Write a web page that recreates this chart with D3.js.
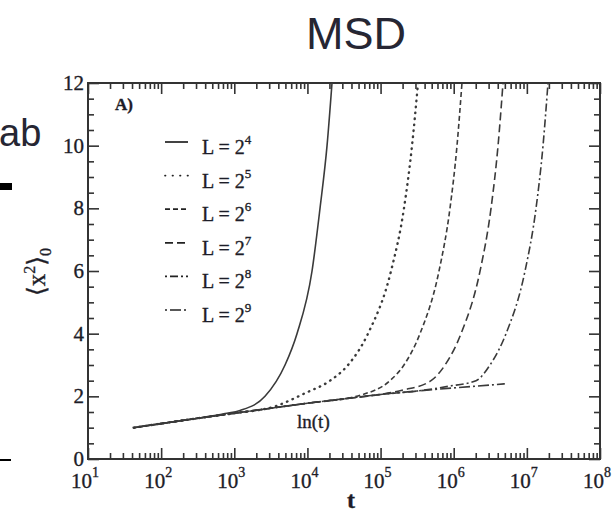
<!DOCTYPE html>
<meta charset="utf-8">
<script src="https://d3js.org/d3.v7.min.js"></script>
<style>
  body { margin: 0; background: #fff; }
  svg text { font-family: "Liberation Serif", "DejaVu Serif", serif; fill: #1d1d28; stroke: #1d1d28; stroke-width: 0.35px; }
</style>
<div id="vis"></div>
<script>

    // curves, each as [t, <x^2>_0]
    var labels = ["4", "5", "6", "7", "8", "9"];
    var curve4 = [[42, 1.0], [100, 1.13], [316, 1.30], [750, 1.45], [1200, 1.55], [2630, 2.0], [4940, 3.0],
        [7200, 4.0], [11560, 6.0], [14860, 8.0], [18540, 10.0], [21680, 12.0]];
    var curve5 = [[42, 1.0], [100, 1.13], [316, 1.30], [1000, 1.46], [3606, 1.68], [9268, 2.1], [20370, 2.5],
        [35890, 3.0], [67300, 4.0], [139000, 6.0], [208900, 8.0], [269200, 10.0], [325100, 12.0]];
    var curve6 = [[42, 1.0], [100, 1.13], [316, 1.30], [1000, 1.46], [3162, 1.62], [10000, 1.78], [31623, 1.92],
        [55720, 2.05], [134600, 2.5], [208900, 3.0], [345900, 4.0], [629500, 6.0], [889200, 8.0],
        [1109000, 10.0], [1297000, 12.0]];
    var curve7 = [[42, 1.0], [100, 1.13], [316, 1.30], [1000, 1.46], [3162, 1.62], [10000, 1.78], [31623, 1.92],
        [100000, 2.06], [202800, 2.2], [489800, 2.5], [760300, 3.0], [1259000, 4.0], [2291000, 6.0],
        [3236000, 8.0], [4036000, 10.0], [4721000, 12.0]];
    var curve8 = [[42, 1.0], [100, 1.13], [316, 1.30], [1000, 1.46], [3162, 1.62], [10000, 1.78], [31623, 1.92],
        [100000, 2.06], [316228, 2.17], [835600, 2.32], [2018000, 2.5], [3133000, 3.0], [5188000, 4.0],
        [9441000, 6.0], [13340000, 8.0], [16630000, 10.0], [19450000, 12.0]];
    var curve9 = [[42, 1.0], [100, 1.13], [316, 1.30], [1000, 1.46], [3162, 1.62], [10000, 1.78], [31623, 1.92],
        [100000, 2.06], [316228, 2.17], [1000000, 2.27], [3162278, 2.36], [5000000, 2.4]];
    var curves = [curve4, curve5, curve6, curve7, curve8, curve9];
    var dashes = ["none", "1.5,4.5", "5,3", "8,4", "2,3,8,3", "2,3,11,3"];

    var decades = [1, 2, 3, 4, 5, 6, 7, 8];
    var yMajor = [0, 2, 4, 6, 8, 10, 12];

    var width = 616, height = 512;
    var box = {left: 88, right: 600, top: 83, bottom: 459};

    var svg = d3.select("#vis").append("svg")
        .attr("width", width).attr("height", height);

    var x = d3.scaleLog().domain([10, 1e8]).range([box.left, box.right]);
    var y = d3.scaleLinear().domain([0, 12]).range([box.bottom, box.top]);

    var minorX = [];
    decades.slice(0, -1).forEach(function(e) {
        for (var k = 2; k < 10; k++) minorX.push(k * Math.pow(10, e));
    });
    var majorX = decades.map(function(e) { return Math.pow(10, e); });
    var minorY = d3.range(0, 12.01, 0.5).filter(function(v) { return v % 2 != 0; });

    // slide leftovers
    var sans = "'Liberation Sans', Arial, sans-serif";
    svg.append("text").attr("x", 356).attr("y", 49).attr("text-anchor", "middle")
        .style("font-family", sans).style("font-size", "45px").style("stroke", "none")
        .style("fill", "#262633").text("MSD");
    svg.append("text").attr("x", -1).attr("y", 146)
        .style("font-family", sans).style("font-size", "38px").style("stroke", "none")
        .style("fill", "#262633").text("ab");
    svg.append("rect").attr("x", 0).attr("y", 183).attr("width", 12).attr("height", 7).attr("fill", "#000");
    svg.append("rect").attr("x", 0).attr("y", 459).attr("width", 11).attr("height", 2).attr("fill", "#000");

    // ticks, all pointing inward
    function ticks(axis, vals, size, tr) {
        var g = svg.append("g").attr("transform", tr)
            .call(axis.tickValues(vals).tickSize(-size).tickFormat(""));
        g.select(".domain").remove();
        g.selectAll("line").attr("stroke", "#333").attr("stroke-width", 1.6);
    }
    ticks(d3.axisBottom(x), minorX, 6, "translate(0," + box.bottom + ")");
    ticks(d3.axisBottom(x), majorX, 11, "translate(0," + box.bottom + ")");
    ticks(d3.axisTop(x), minorX, 6, "translate(0," + box.top + ")");
    ticks(d3.axisTop(x), majorX, 11, "translate(0," + box.top + ")");
    ticks(d3.axisLeft(y), minorY, 6, "translate(" + box.left + ",0)");
    ticks(d3.axisLeft(y), yMajor, 11, "translate(" + box.left + ",0)");
    ticks(d3.axisRight(y), minorY, 6, "translate(" + box.right + ",0)");
    ticks(d3.axisRight(y), yMajor, 11, "translate(" + box.right + ",0)");

    svg.append("rect")
        .attr("x", box.left).attr("y", box.top)
        .attr("width", box.right - box.left).attr("height", box.bottom - box.top)
        .attr("fill", "none").attr("stroke", "#333").attr("stroke-width", 2);

    // tick labels
    svg.selectAll(".ylab").data(yMajor).enter().append("text")
        .attr("x", box.left - 4).attr("y", function(d) { return y(d) + 7; })
        .attr("text-anchor", "end").style("font-size", "21px")
        .text(function(d) { return d; });

    var xl = svg.selectAll(".xlab").data(decades).enter().append("text")
        .attr("x", function(d) { return x(Math.pow(10, d)) - 3; }).attr("y", 488)
        .attr("text-anchor", "middle").style("font-size", "21px");
    xl.append("tspan").text("10");
    xl.append("tspan").attr("dy", -11).style("font-size", "14px").text(function(d) { return d; });

    // curves
    var line = d3.line()
        .x(function(d) { return x(d[0]); })
        .y(function(d) { return y(d[1]); })
        .curve(d3.curveMonotoneX);

    svg.append("defs").append("clipPath").attr("id", "clip")
        .append("rect").attr("x", box.left).attr("y", box.top)
        .attr("width", box.right - box.left).attr("height", box.bottom - box.top);

    svg.append("g").attr("clip-path", "url(#clip)")
        .selectAll("path").data(curves).enter().append("path")
        .attr("d", line)
        .attr("fill", "none")
        .attr("stroke", "#3a3a3a")
        .attr("stroke-width", function(d, i) { return i == 1 ? 2.4 : 1.6; })
        .attr("stroke-linecap", function(d, i) { return i == 1 ? "round" : "butt"; })
        .attr("stroke-dasharray", function(d, i) { return i == 1 ? "0.5,5.5" : dashes[i]; });

    // legend
    var rowY = d3.scaleLinear().domain([0, 5]).range([142, 310]);
    var lg = svg.selectAll(".leg").data(labels).enter().append("g")
        .attr("transform", function(d, i) { return "translate(0," + rowY(i) + ")"; });
    lg.append("line").attr("x1", 165).attr("x2", 188)
        .attr("stroke", "#222").attr("stroke-width", 1.7)
        .attr("stroke-linecap", function(d, i) { return i == 1 ? "round" : "butt"; })
        .attr("stroke-dasharray", function(d, i) { return i == 1 ? "0.5,7" : dashes[i]; });
    var lt = lg.append("text").attr("x", 202).attr("y", 12).style("font-size", "20px");
    lt.append("tspan").text("L = 2");
    lt.append("tspan").attr("dy", -10).style("font-size", "13px").text(function(d) { return d; });

    svg.append("text").attr("x", 115).attr("y", 110)
        .style("font-size", "17px").style("font-weight", "bold").text("A)");
    svg.append("text").attr("x", 297).attr("y", 428)
        .style("font-size", "19px").text("ln(t)");
    svg.append("text").attr("x", 351).attr("y", 508).attr("text-anchor", "middle")
        .style("font-size", "24px").style("font-weight", "bold").text("t");

    var yl = svg.append("text").attr("transform", "translate(45,272) rotate(-90)")
        .attr("text-anchor", "middle").style("font-size", "25px");
    yl.append("tspan").text("\u27e8x");
    yl.append("tspan").attr("dy", -10).style("font-size", "16px").text("2");
    yl.append("tspan").attr("dy", 10).text("\u27e9");
    yl.append("tspan").attr("dy", 6).style("font-size", "16px").text("0");

</script>
